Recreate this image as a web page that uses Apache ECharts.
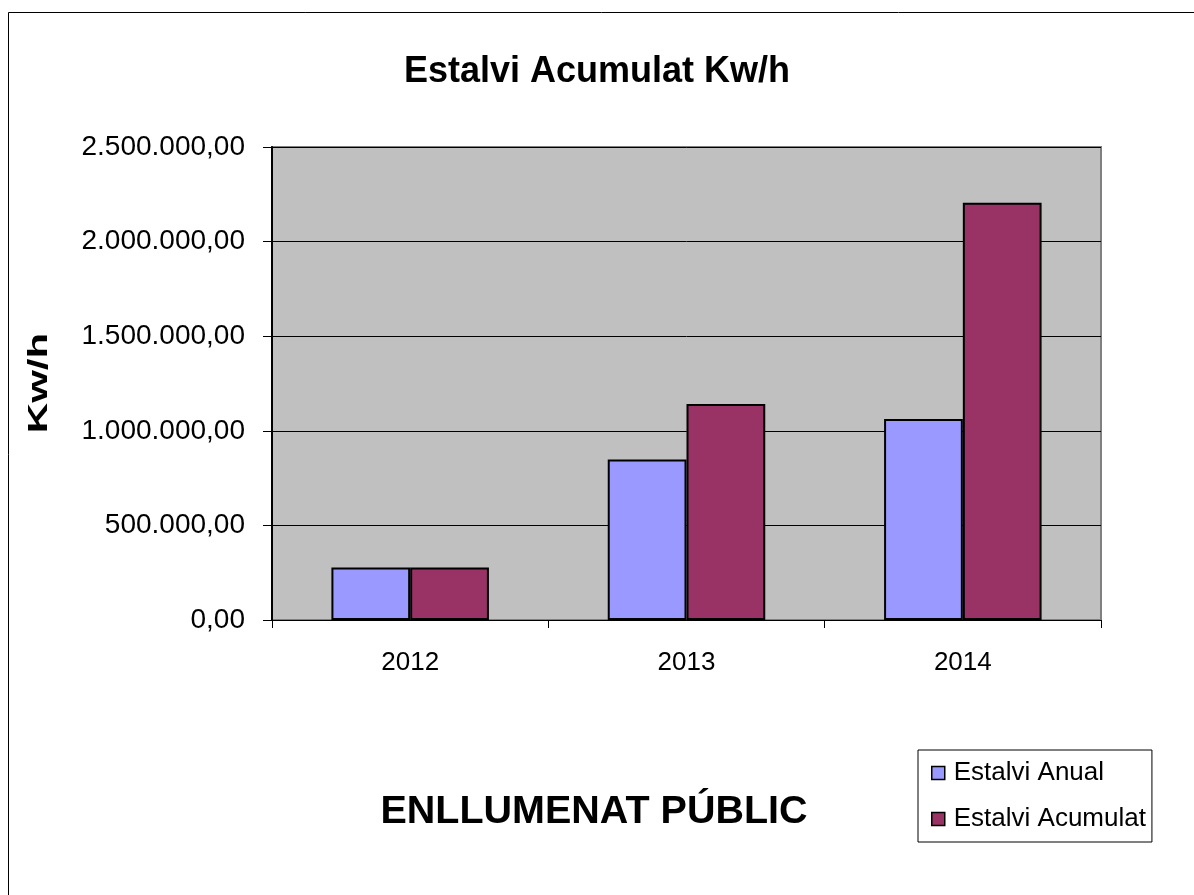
<!DOCTYPE html>
<html>
<head>
<meta charset="utf-8">
<script src="https://cdn.jsdelivr.net/npm/echarts@6/dist/echarts.min.js"></script>
<style>
  html, body { margin: 0; padding: 0; background: #fff; }
  #chart { width: 1194px; height: 895px; }
</style>
</head>
<body>
<div id="chart"></div>
<script>
// dades llegides del gràfic
const years = ['2012', '2013', '2014']
const estalviAnual = [277000, 848000, 1063000]
const estalviAcumulat = [277000, 1142000, 2205000]
const yTicks = [0, 500000, 1000000, 1500000, 2000000, 2500000]

const font = 'Liberation Sans, Arial, sans-serif'

function fmt(v) {
  const s = Math.round(v).toString().replace(/\B(?=(\d{3})+(?!\d))/g, '.')
  return s + ',00'
}

const chart = echarts.init(document.getElementById('chart'))
const option = {
  backgroundColor: '#fff',
  animation: false,
  graphic: [
    {
      type: 'rect',
      shape: { x: 8.5, y: 12.5, width: 1200, height: 900 },
      style: { fill: 'none', stroke: '#000', lineWidth: 1 },
      z: -1
    },
    {
      // títol de l'eix Y, allargat com a l'original
      type: 'text',
      x: 39,
      y: 383,
      rotation: Math.PI / 2,
      scaleX: 1.5,
      style: {
        text: 'Kw/h',
        fontFamily: font,
        fontSize: 28,
        fontWeight: 'bold',
        fill: '#000',
        align: 'center',
        verticalAlign: 'middle'
      }
    }
  ],
  title: [
    {
      text: 'Estalvi Acumulat Kw/h',
      left: 'center',
      top: 49,
      textStyle: { fontFamily: font, fontSize: 36, fontWeight: 'bold', color: '#000' }
    },
    {
      text: 'ENLLUMENAT PÚBLIC',
      left: 589,
      top: 787,
      textAlign: 'center',
      textStyle: { fontFamily: font, fontSize: 39.5, fontWeight: 'bold', color: '#000' }
    }
  ],
  legend: {
    orient: 'vertical',
    left: 918,
    top: 750,
    padding: [10, 6, 10, 13],
    itemGap: 20,
    itemWidth: 13,
    itemHeight: 13,
    backgroundColor: '#fff',
    borderColor: '#000',
    borderWidth: 1,
    borderRadius: 0,
    icon: 'rect',
    itemStyle: { borderColor: '#000', borderWidth: 1.5 },
    textStyle: { fontFamily: font, fontSize: 26, color: '#000', padding: [0, 0, 0, 4] },
    data: ['Estalvi Anual', 'Estalvi Acumulat']
  },
  grid: {
    left: 272,
    right: 93,
    top: 147,
    bottom: 275,
    show: true,
    backgroundColor: '#C0C0C0',
    borderColor: '#808080',
    borderWidth: 2
  },
  xAxis: {
    type: 'category',
    data: years,
    axisLine: { lineStyle: { color: '#000', width: 1 } },
    axisTick: { show: true, length: 8, lineStyle: { color: '#000' } },
    axisLabel: { fontFamily: font, fontSize: 26, color: '#000', margin: 30 }
  },
  yAxis: {
    type: 'value',
    min: 0,
    max: yTicks[yTicks.length - 1],
    interval: yTicks[1],
    axisLine: { show: true, lineStyle: { color: '#000', width: 2 } },
    axisTick: { show: true, length: 9, lineStyle: { color: '#000' } },
    axisLabel: { fontFamily: font, fontSize: 28, color: '#000', margin: 27, formatter: fmt },
    splitLine: { show: true, lineStyle: { color: '#000', width: 1 } }
  },
  series: [
    {
      name: 'Estalvi Anual',
      type: 'bar',
      data: estalviAnual,
      barGap: '0%',
      barCategoryGap: '43%',
      itemStyle: { color: '#9999FF', borderColor: '#000', borderWidth: 2 }
    },
    {
      name: 'Estalvi Acumulat',
      type: 'bar',
      data: estalviAcumulat,
      itemStyle: { color: '#993366', borderColor: '#000', borderWidth: 2 }
    }
  ]
}
chart.setOption(option)
</script>
</body>
</html>
